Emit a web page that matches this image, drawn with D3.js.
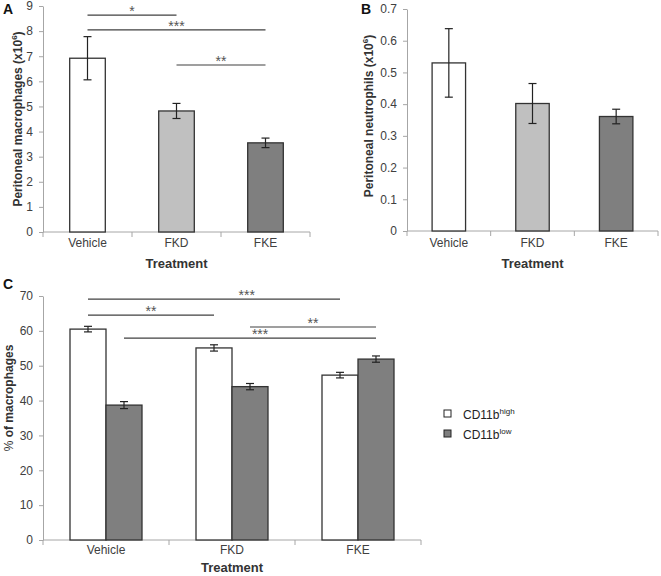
<!DOCTYPE html>
<html>
<head>
<meta charset="utf-8">
<script src="https://cdn.jsdelivr.net/npm/d3@7"></script>
<style>
  body { margin: 0; background: #fff; }
  text { font-family: "Liberation Sans", Arial, sans-serif; }
</style>
</head>
<body>
<script>
const categories = ["Vehicle", "FKD", "FKE"];
const fills = ["#ffffff", "#c0c0c0", "#7f7f7f"];

// panel A
const macrophages = [6.92, 4.82, 3.55];
const macrophagesErr = [0.86, 0.30, 0.19];
const sigA = [
    { from: 0, to: 1, y: 8.64, label: "*" },
    { from: 0, to: 2, y: 8.05, label: "***" },
    { from: 1, to: 2, y: 6.65, label: "**" }
];

// panel B
const neutrophils = [0.53, 0.402, 0.361];
const neutrophilsErr = [0.108, 0.063, 0.023];

// panel C
const subsets = ["CD11b high", "CD11b low"];
const subsetFills = ["#ffffff", "#7f7f7f"];
const cd11bHigh = [60.5, 55.1, 47.3];
const cd11bHighErr = [0.8, 0.9, 0.8];
const cd11bLow = [38.7, 44.0, 51.9];
const cd11bLowErr = [1.0, 0.9, 0.9];
// from/to: [category index, subset index]
const sigC = [
    { from: [0, 0], to: [2, 0], y: 69.1, label: "***", at: 0.63 },
    { from: [0, 0], to: [1, 0], y: 64.5, label: "**", at: 0.5 },
    { from: [1, 1], to: [2, 1], y: 61.1, label: "**", at: 0.5 },
    { from: [0, 1], to: [2, 1], y: 57.9, label: "***", at: 0.54 }
];

const axisColor = "#a6a6a6";
const textColor = "#404040";

const svg = d3.select("body").append("svg")
    .attr("width", 661)
    .attr("height", 576);

const panelLetter = (x, y, t) => svg.append("text")
    .attr("x", x).attr("y", y)
    .attr("font-size", 14).attr("font-weight", "bold")
    .attr("fill", "#111")
    .text(t);

const drawAxes = (g, x, y, ticks, fmt, xRange, outer, labelDy, titleDy) => {
    const yAxis = g.append("g")
        .attr("transform", `translate(${xRange[0]},0)`)
        .call(d3.axisLeft(y).tickValues(ticks).tickFormat(fmt).tickSize(4).tickPadding(6).tickSizeOuter(0));
    yAxis.select(".domain").attr("stroke", axisColor);
    yAxis.selectAll(".tick line").attr("stroke", axisColor);
    yAxis.selectAll(".tick text")
        .attr("font-size", 12).attr("fill", textColor)
        .attr("font-family", "Liberation Sans, Arial, sans-serif");

    const y0 = y.range()[0];
    g.append("line")
        .attr("x1", xRange[0]).attr("x2", xRange[1])
        .attr("y1", y0).attr("y2", y0)
        .attr("stroke", axisColor);

    const bounds = categories.map(c => x(c) - x.step() * outer);
    bounds.push(xRange[1]);
    g.selectAll(".xtick")
        .data(bounds)
        .join("line")
        .attr("class", "xtick")
        .attr("x1", d => d).attr("x2", d => d)
        .attr("y1", y0).attr("y2", y0 + 5)
        .attr("stroke", axisColor);

    g.selectAll(".xlabel")
        .data(categories)
        .join("text")
        .attr("class", "xlabel")
        .attr("x", d => x(d) - x.step() * outer + x.step() / 2)
        .attr("y", y0 + labelDy)
        .attr("text-anchor", "middle")
        .attr("font-size", 12)
        .attr("fill", textColor)
        .text(d => d);

    g.append("text")
        .attr("x", (xRange[0] + xRange[1]) / 2)
        .attr("y", y0 + titleDy)
        .attr("text-anchor", "middle")
        .attr("font-size", 13)
        .attr("font-weight", "bold")
        .attr("fill", "#333")
        .text("Treatment");
};

const yTitle = (g, x, cy, parts) => {
    const t = g.append("text")
        .attr("transform", `translate(${x},${cy}) rotate(-90)`)
        .attr("text-anchor", "middle")
        .attr("font-size", 12)
        .attr("font-weight", "bold")
        .attr("fill", "#333");
    parts.forEach(p => {
        const s = t.append("tspan").text(p.t);
        if (p.sup) s.attr("font-size", 8).attr("dy", -5);
        if (p.after) s.attr("dy", 5);
        if (p.normal) s.attr("font-weight", "normal");
    });
};

const errorBars = (g, xs, ys, errs, y) => {
    const eg = g.append("g").attr("stroke", "#222").attr("stroke-width", 1.2);
    xs.forEach((cx, i) => {
        const lo = y(ys[i] - errs[i]), hi = y(ys[i] + errs[i]);
        eg.append("line").attr("x1", cx).attr("x2", cx).attr("y1", lo).attr("y2", hi);
        eg.append("line").attr("x1", cx - 4).attr("x2", cx + 4).attr("y1", lo).attr("y2", lo);
        eg.append("line").attr("x1", cx - 4).attr("x2", cx + 4).attr("y1", hi).attr("y2", hi);
    });
};

const sigLines = (g, data, xOf, y) => {
    data.forEach(d => {
        const x1 = xOf(d.from), x2 = xOf(d.to), yy = y(d.y);
        g.append("line")
            .attr("x1", x1).attr("x2", x2)
            .attr("y1", yy).attr("y2", yy)
            .attr("stroke", "#404040").attr("stroke-width", 1.2);
        g.append("text")
            .attr("x", x1 + (x2 - x1) * (d.at || 0.5))
            .attr("y", yy + 1)
            .attr("text-anchor", "middle")
            .attr("font-size", 14)
            .attr("fill", "#555")
            .text(d.label);
    });
};

// ---------- panel A ----------
{
    const g = svg.append("g");
    const xr = [43, 310];
    const x = d3.scaleBand().domain(categories).range(xr).paddingInner(0.6).paddingOuter(0.3);
    const y = d3.scaleLinear().domain([0, 9]).range([232, 6]);
    drawAxes(g, x, y, d3.range(0, 10), d3.format("d"), xr, 0.3, 15, 36);

    g.selectAll(".bar")
        .data(categories)
        .join("rect")
        .attr("class", "bar")
        .attr("x", d => x(d))
        .attr("width", x.bandwidth())
        .attr("y", (d, i) => y(macrophages[i]))
        .attr("height", (d, i) => y(0) - y(macrophages[i]))
        .attr("fill", (d, i) => fills[i])
        .attr("stroke", "#333")
        .attr("stroke-width", 1.3);

    errorBars(g, categories.map(c => x(c) + x.bandwidth() / 2), macrophages, macrophagesErr, y);
    sigLines(g, sigA, i => x(categories[i]) + x.bandwidth() / 2, y);
    yTitle(g, 22, 119, [{ t: "Peritoneal macrophages (x10" }, { t: "6", sup: true }, { t: ")", after: true }]);
    panelLetter(3, 14, "A");
}

// ---------- panel B ----------
{
    const g = svg.append("g");
    const xr = [407, 658];
    const x = d3.scaleBand().domain(categories).range(xr).paddingInner(0.6).paddingOuter(0.3);
    const y = d3.scaleLinear().domain([0, 0.7]).range([231, 9]);
    drawAxes(g, x, y, d3.range(0, 8).map(v => v / 10), d => d === 0 ? "0" : d3.format(".1f")(d), xr, 0.3, 16, 37);

    g.selectAll(".bar")
        .data(categories)
        .join("rect")
        .attr("class", "bar")
        .attr("x", d => x(d))
        .attr("width", x.bandwidth())
        .attr("y", (d, i) => y(neutrophils[i]))
        .attr("height", (d, i) => y(0) - y(neutrophils[i]))
        .attr("fill", (d, i) => fills[i])
        .attr("stroke", "#333")
        .attr("stroke-width", 1.3);

    errorBars(g, categories.map(c => x(c) + x.bandwidth() / 2), neutrophils, neutrophilsErr, y);
    yTitle(g, 373, 116, [{ t: "Peritoneal neutrophils (x10" }, { t: "6", sup: true }, { t: ")", after: true }]);
    panelLetter(361, 14, "B");
}

// ---------- panel C ----------
{
    const g = svg.append("g");
    const xr = [43, 421];
    const x = d3.scaleBand().domain(categories).range(xr).padding(0);
    const x1 = d3.scaleBand().domain(subsets).range([0, x.bandwidth()]).paddingInner(0).paddingOuter(0.75);
    const y = d3.scaleLinear().domain([0, 70]).range([540, 296]);
    drawAxes(g, x, y, d3.range(0, 80, 10), d3.format("d"), xr, 0, 14, 32);

    const series = [cd11bHigh, cd11bLow];
    const seriesErr = [cd11bHighErr, cd11bLowErr];
    const cells = [];
    categories.forEach((c, i) => subsets.forEach((s, j) => cells.push({ c, s, i, j, v: series[j][i], e: seriesErr[j][i] })));

    g.selectAll(".bar")
        .data(cells)
        .join("rect")
        .attr("class", "bar")
        .attr("x", d => x(d.c) + x1(d.s))
        .attr("width", x1.bandwidth())
        .attr("y", d => y(d.v))
        .attr("height", d => y(0) - y(d.v))
        .attr("fill", d => subsetFills[d.j])
        .attr("stroke", "#333")
        .attr("stroke-width", 1.3);

    errorBars(g, cells.map(d => x(d.c) + x1(d.s) + x1.bandwidth() / 2), cells.map(d => d.v), cells.map(d => d.e), y);
    sigLines(g, sigC, p => x(categories[p[0]]) + x1(subsets[p[1]]) + x1.bandwidth() / 2, y);

    yTitle(g, 13, 398, [{ t: "% ", normal: true }, { t: "of macrophages" }]);
    panelLetter(3, 289, "C");

    // legend
    const lg = g.append("g").attr("transform", "translate(444,410)");
    subsets.forEach((s, j) => {
        const row = lg.append("g").attr("transform", `translate(0,${j * 20})`);
        row.append("rect")
            .attr("width", 7).attr("height", 7)
            .attr("fill", subsetFills[j])
            .attr("stroke", "#222").attr("stroke-width", 1);
        const t = row.append("text")
            .attr("x", 19).attr("y", 9)
            .attr("font-size", 12)
            .attr("font-family", "Open Sans, Liberation Sans, sans-serif")
            .attr("fill", "#222");
        const [base, sup] = s.split(" ");
        t.append("tspan").text(base);
        t.append("tspan").attr("font-size", 8).attr("dy", -5).text(sup);
    });
}
</script>
</body>
</html>
